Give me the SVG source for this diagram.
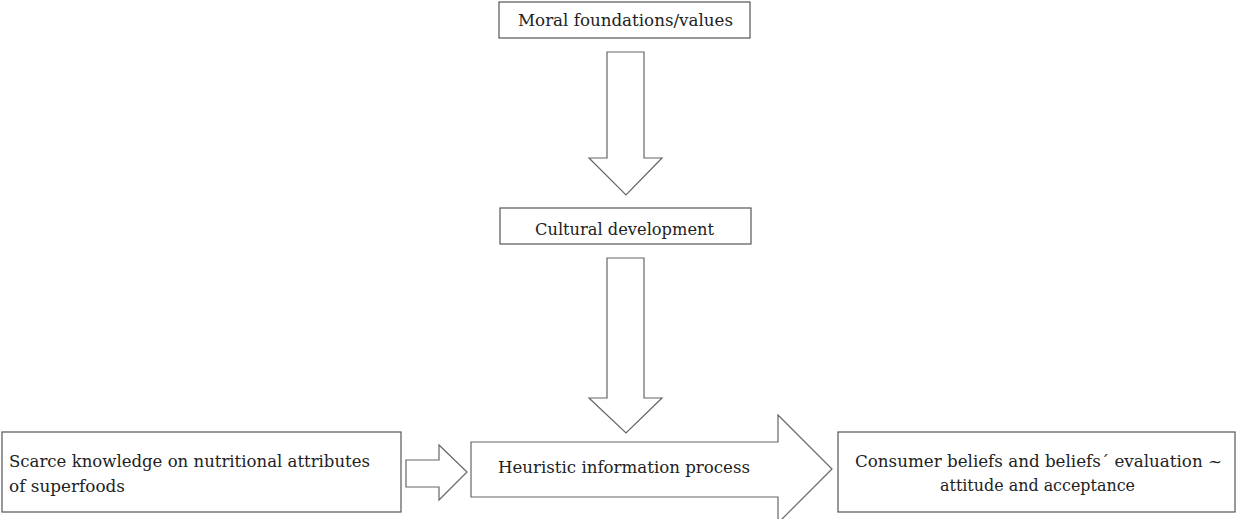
<svg xmlns="http://www.w3.org/2000/svg" width="1236" height="519" viewBox="0 0 1236 519">
<style>
.box{fill:#fff;stroke:#555;stroke-width:1.2}
.arr{fill:#fff;stroke:#666;stroke-width:1.2;stroke-linejoin:miter}
.t{font-family:'DejaVu Serif','Liberation Serif',serif;font-size:16px;fill:#222}
</style>
<rect width="1236" height="519" fill="#fff"/>
<g id="connectors">
<polygon class="arr" points="607,52 644,52 644,158 662,158 626,195 589,158 607,158"/>
<polygon class="arr" points="607,258 644,258 644,398 662,398 626,433 589,398 607,398"/>
<polygon class="arr" points="406,460 439,460 439,445 467,472 439,500 439,487 406,487"/>
</g>
<g id="moral">
<rect class="box" x="499" y="2" width="251" height="36"/>
<text class="t" x="518" y="26" textLength="215" lengthAdjust="spacingAndGlyphs">Moral foundations/values</text>
</g>
<g id="cultural">
<rect class="box" x="500" y="208" width="251" height="36"/>
<text class="t" x="535" y="235" textLength="179" lengthAdjust="spacingAndGlyphs">Cultural development</text>
</g>
<g id="scarce">
<rect class="box" x="2" y="432" width="399" height="80"/>
<text class="t" x="9" y="467" textLength="361" lengthAdjust="spacingAndGlyphs">Scarce knowledge  on nutritional attributes</text>
<text class="t" x="9" y="492" textLength="116" lengthAdjust="spacingAndGlyphs">of superfoods</text>
</g>
<g id="heuristic">
<polygon class="arr" points="471,442 778,442 778,415 832,469 778,523 778,497 471,497"/>
<text class="t" x="498" y="473" textLength="252" lengthAdjust="spacingAndGlyphs">Heuristic information process</text>
</g>
<g id="consumer">
<rect class="box" x="838" y="432" width="397" height="80"/>
<text class="t" x="855" y="467" textLength="367" lengthAdjust="spacingAndGlyphs">Consumer beliefs and beliefs´ evaluation ~</text>
<text class="t" x="940" y="491" textLength="195" lengthAdjust="spacingAndGlyphs">attitude and acceptance</text>
</g>
</svg>
